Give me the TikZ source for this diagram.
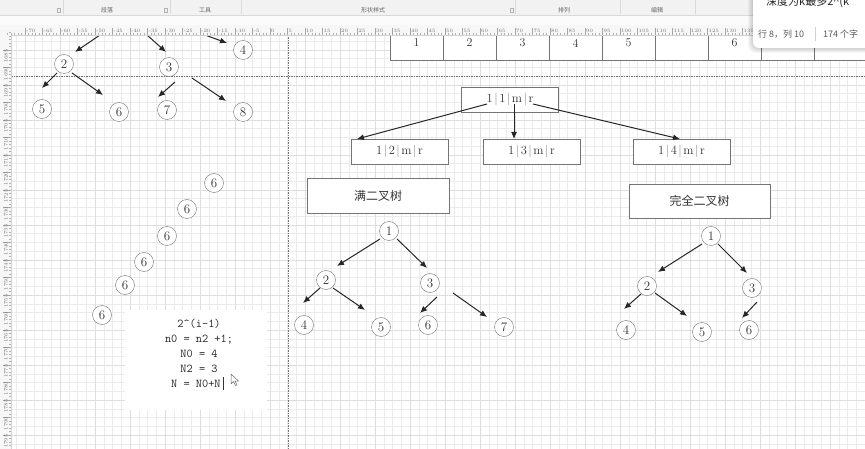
\documentclass[tikz,border=0pt]{standalone}
\usepackage{fontspec}
\newfontfamily\cjk{Noto Sans CJK SC}
\usetikzlibrary{arrows.meta,positioning}
\definecolor{gridline}{HTML}{EBEBEB}
\definecolor{gridmajor}{HTML}{DEDEDE}
\definecolor{barbg}{HTML}{F2F2F2}
\definecolor{edgegray}{HTML}{747474}
\newcommand{\keytext}[1]{1\kern1.5pt{\color{black!50}|}\kern1.5pt#1\kern1.5pt{\color{black!50}|}\kern1.5pt m\kern1.5pt{\color{black!50}|}\kern1.5pt r}

\begin{document}
\begin{tikzpicture}[x=1pt, y=-1pt,
    num/.style={circle, draw=edgegray, fill=white, minimum size=19pt, inner sep=0pt,
                text=black!80, font=\fontsize{13}{13}\selectfont},
    keybox/.style={rectangle, draw=edgegray, fill=white, minimum width=97pt,
                   minimum height=25pt, text=black!80, font=\fontsize{12.5}{12.5}\selectfont},
    titlebox/.style={rectangle, draw=edgegray, fill=white, minimum width=142pt,
                     minimum height=35pt, text=black!80, font=\cjk\fontsize{12}{12}\selectfont},
    cell/.style={rectangle, draw=edgegray, fill=white, minimum width=53pt, minimum height=34pt,
                 text depth=0pt, text=black!80, font=\fontsize{12}{12}\selectfont},
    arr/.style={-{Latex[length=7pt,width=6pt]}, line width=1pt, black!85},
    barlabel/.style={font=\cjk\fontsize{6}{6}\selectfont, text=black!60, inner sep=0pt},
    rulerlabel/.style={font=\fontsize{5}{5}\selectfont, text=black!55, inner sep=0pt}
]
    \useasboundingbox (0,0) rectangle (865,449);
    \fill[white] (0,0) rectangle (865,449);

    % page grid
    \foreach \i in {-29,...,68}
        \draw[gridline, line width=0.5pt] ({270+8.75*\i},35) -- ({270+8.75*\i},449);
    \foreach \j in {-2,...,46}
        \draw[gridline, line width=0.5pt] (11,{50+8.75*\j}) -- (865,{50+8.75*\j});
    \foreach \i in {-7,...,17}
        \draw[gridmajor, line width=0.5pt] ({270+35*\i},35) -- ({270+35*\i},449);
    \foreach \j in {0,...,11}
        \draw[gridmajor, line width=0.5pt] (11,{50+35*\j}) -- (865,{50+35*\j});

    % page breaks
    \draw[black!55, dash pattern=on 1.5pt off 1pt] (11,76) -- (865,76);
    \draw[black!55, dash pattern=on 1.5pt off 1pt] (288,35) -- (288,449);

    % array cells
    \foreach \t [count=\k from 0] in {1,2,3,4,5,{},6}
        \node[cell] (cell\k) at ({416.5+53*\k},43) {\t};
    \draw[edgegray, fill=white] (761,26) rectangle (814,60);
    \draw[edgegray, fill=white] (814,26) rectangle (867,60);

    % left sketch
    \node[num] (l4) at (243,50) {4};
    \node[num] (l2) at (64,64) {2};
    \node[num] (l3) at (169,67) {3};
    \node[num] (l5) at (42,109) {5};
    \node[num] (l6) at (119,112) {6};
    \node[num] (l7) at (167,110) {7};
    \node[num] (l8) at (243,112) {8};
    \foreach \n/\sx/\sy/\ex/\ey in {la1/100/35/75/52, la2/147/35/166/52, la3/205/35/227/43,
            la4/57/73/42/88, la5/72/73/103/95, la6/175/82/158/97, la7/192/78/226/101} {
        \coordinate (\n s) at (\sx,\sy);
        \coordinate (\n e) at (\ex,\ey);
        \draw[arr] (\n s) -- (\n e);
    }
    \foreach \x/\y [count=\k] in {214/183, 187/209, 167/236, 144/262, 125/285, 102/315}
        \node[num] (six\k) at (\x,\y) {6};

    % notes
    \node[rectangle, fill=white, minimum width=142pt, minimum height=100pt] (memo) at (196,360) {};
    \node[align=center, font=\ttfamily\fontsize{12}{15}\selectfont, text=black!85] (memotext) at (199,353)
        {2\textasciicircum(i-1)\\n0 = n2 +1;\\N0 = 4\\N2 = 3\\N = N0+N\phantom{0}};
    \draw[black!80, line width=0.6pt] (223,377) -- (223,390);
    \draw[black!60, fill=white, line width=0.5pt, line join=round]
        (231,374) -- (231,384) -- (233.5,381.5) -- (235.5,385.5) -- (237,384.8)
        -- (235,381) -- (238.5,381) -- cycle;

    % index keys
    \node[keybox] (k11) at (510,99.5) {\keytext{1}};
    \node[keybox] (k12) at (399.5,151.5) {\keytext{2}};
    \node[keybox] (k13) at (531.5,151.5) {\keytext{3}};
    \node[keybox] (k14) at (681.5,151.5) {\keytext{4}};
    \foreach \n/\sx/\sy/\ex/\ey in {ka1/487/104/357/139, ka2/514/104/514/139, ka3/533/104/680/139} {
        \coordinate (\n s) at (\sx,\sy);
        \coordinate (\n e) at (\ex,\ey);
        \draw[arr] (\n s) -- (\n e);
    }

    % full binary tree
    \node[titlebox] (full) at (378,195.5) {满二叉树};
    \node[num] (f1) at (389,231) {1};
    \node[num] (f2) at (326,280) {2};
    \node[num] (f3) at (430,283) {3};
    \node[num] (f4) at (304,325) {4};
    \node[num] (f5) at (381,327) {5};
    \node[num] (f6) at (428,325) {6};
    \node[num] (f7) at (504,327) {7};
    \foreach \n/\sx/\sy/\ex/\ey in {ft1/380/239/337/266, ft2/397/239/427/268, ft3/320/288/303/303,
            ft4/333/288/365/310, ft5/437/297/420/313, ft6/453/293/487/317} {
        \coordinate (\n s) at (\sx,\sy);
        \coordinate (\n e) at (\ex,\ey);
        \draw[arr] (\n s) -- (\n e);
    }

    % complete binary tree
    \node[titlebox, minimum width=141pt, minimum height=34pt] (complete) at (699.5,201) {完全二叉树};
    \node[num] (c1) at (711,236) {1};
    \node[num] (c2) at (647,286) {2};
    \node[num] (c3) at (752,288) {3};
    \node[num] (c4) at (626,330) {4};
    \node[num] (c5) at (702,332) {5};
    \node[num] (c6) at (749,330) {6};
    \foreach \n/\sx/\sy/\ex/\ey in {ct1/702/244/658/272, ct2/718/244/747/273, ct3/641/294/624/309,
            ct4/655/293/687/316, ct5/757/302/742/318} {
        \coordinate (\n s) at (\sx,\sy);
        \coordinate (\n e) at (\ex,\ey);
        \draw[arr] (\n s) -- (\n e);
    }

    % rulers
    \fill[gray!6] (0,25) rectangle (865,35);
    \fill[gray!6] (0,35) rectangle (11,449);
    \draw[gray!35, line width=0.4pt] (11,35) -- (865,35);
    \draw[gray!35, line width=0.4pt] (11,35) -- (11,449);
    \foreach \i in {-75,...,170}
        \draw[gray!60, line width=0.3pt] ({270+3.5*\i},33) -- ({270+3.5*\i},35);
    \foreach \v in {-70,-65,...,135} {
        \draw[gray!70, line width=0.3pt] ({270+3.5*(\v)},28) -- ({270+3.5*(\v)},35);
        \node[rulerlabel, anchor=west] at ({271+3.5*(\v)},30.5) {\v};
    }
    \foreach \i in {-5,...,115}
        \draw[gray!60, line width=0.3pt] (9,{50+3.5*\i}) -- (11,{50+3.5*\i});
    \foreach \v in {1685,1690,...,1795} {
        \draw[gray!70, line width=0.3pt] (3,{50+3.5*(\v-1685)}) -- (11,{50+3.5*(\v-1685)});
        \node[rulerlabel, rotate=90, anchor=east] at (6,{49+3.5*(\v-1685)}) {\v};
    }

    % ribbon
    \fill[barbg] (0,0) rectangle (865,15);
    \fill[gray!3] (0,15) rectangle (865,25);
    \draw[gray!30, line width=0.5pt] (0,15) -- (865,15);
    \foreach \x in {63,170,241,515,620,695}
        \draw[gray!30, line width=0.5pt] (\x,0) -- (\x,14);
    \foreach \x in {57,164,510}
        \draw[gray!60, line width=0.4pt] (\x,8.5) rectangle ++(3.5,3.5);
    \node[barlabel] (para) at (107,10) {段落};
    \node[barlabel] (tools) at (205,10) {工具};
    \node[barlabel] (shape) at (373,10) {形状样式};
    \node[barlabel] (arrange) at (564,10) {排列};
    \node[barlabel] (edit) at (657,10) {编辑};

    % status popup
    \foreach \s in {1,...,5}
        \fill[black, opacity=0.035, rounded corners=8pt] ({753-\s},-10) rectangle (880,{48+\s});
    \fill[white, rounded corners=6pt] (753,-10) rectangle (880,48);
    \node[anchor=west, font=\cjk\fontsize{11}{11}\selectfont, text=black!85, inner sep=0pt] (topic) at (766,2) {深度为k最多2\textasciicircum(k};
    \node[anchor=west, font=\cjk\fontsize{9}{9}\selectfont, text=black!65, inner sep=0pt] (pos) at (758,34) {行 8，列 10};
    \draw[gray!35, line width=0.5pt] (815,27) -- (815,41);
    \node[anchor=west, font=\cjk\fontsize{9}{9}\selectfont, text=black!65, inner sep=0pt] (count) at (823,34) {174 个字};
\end{tikzpicture}
\end{document}
